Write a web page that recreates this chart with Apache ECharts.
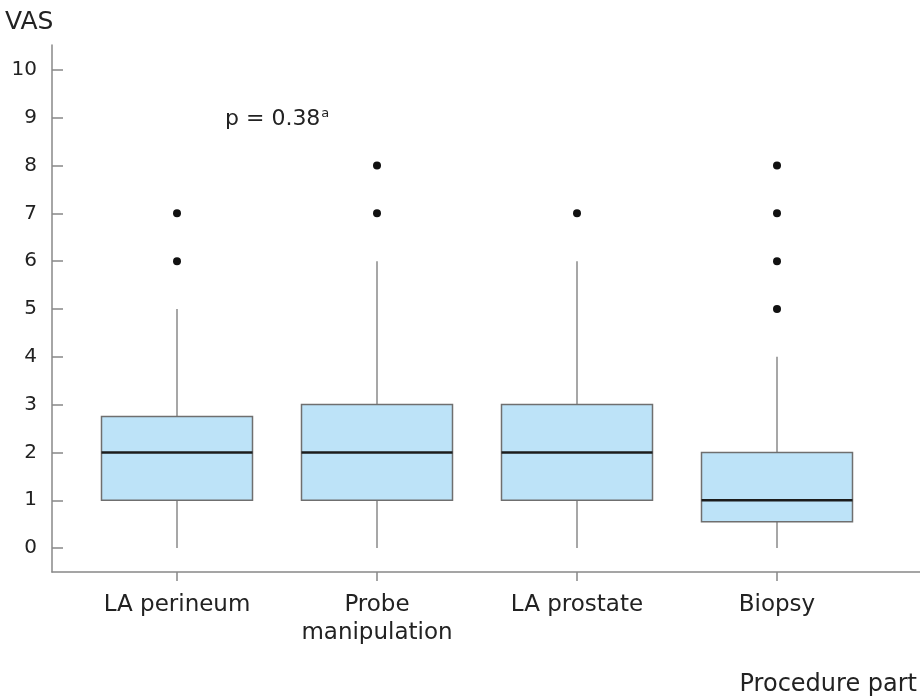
<!DOCTYPE html>
<html><head><meta charset="utf-8">
<script src="https://cdn.jsdelivr.net/npm/echarts@6/dist/echarts.min.js"></script>
<style>html,body{margin:0;padding:0;background:#fff}#c{width:920px;height:700px}</style>
</head><body><div id="c"></div>
<script>
const categories = ['LA perineum', 'Probe\nmanipulation', 'LA prostate', 'Biopsy'];
// [whiskerLow, Q1, median, Q3, whiskerHigh]
const lowWhisker = [0, 0, 0, 0];
const q1 = [1, 1, 1, 0.55];
const medians = [2, 2, 2, 1];
const q3 = [2.75, 3, 3, 2];
const highWhisker = [5, 6, 6, 4];
const outliers = [[6, 7], [7, 8], [7], [5, 6, 7, 8]];
const yTicks = [0, 1, 2, 3, 4, 5, 6, 7, 8, 9, 10];
const pText = 'p = 0.38';

const boxData = categories.map((c, i) => [i, lowWhisker[i], q1[i], medians[i], q3[i], highWhisker[i]]);
const outlierData = [];
outliers.forEach((arr, i) => arr.forEach(v => outlierData.push([i, v])));

const FONT = '"DejaVu Sans", sans-serif';
const chart = echarts.init(document.getElementById('c'), null, {renderer: 'canvas'});
const Y_MIN = -0.5, Y_MAX = 10.52;
chart.setOption({
  animation: false,
  backgroundColor: '#fff',
  textStyle: {fontFamily: FONT},
  grid: [
    {left: 77, right: 43, top: 45, bottom: 128},
    {left: 52, right: 0, top: 45, bottom: 128}
  ],
  xAxis: [
    {type: 'category', gridIndex: 0, data: categories, boundaryGap: true,
     axisLine: {show: false, onZero: false},
     axisTick: {show: true, alignWithLabel: true, length: 9, lineStyle: {color: '#888', width: 1.5}},
     axisLabel: {fontSize: 23, color: '#222', margin: 19, lineHeight: 28, fontFamily: FONT},
     splitLine: {show: false}},
    {type: 'value', gridIndex: 1, min: 0, max: 1,
     axisLine: {show: true, onZero: false, lineStyle: {color: '#888', width: 1.5}},
     axisTick: {show: false}, axisLabel: {show: false}, splitLine: {show: false}}
  ],
  yAxis: [
    {type: 'value', gridIndex: 0, min: Y_MIN, max: Y_MAX, show: false, splitLine: {show: false}},
    {type: 'value', gridIndex: 1, min: Y_MIN, max: Y_MAX,
     axisLine: {show: true, onZero: false, lineStyle: {color: '#888', width: 1.5}},
     axisTick: {show: true, inside: true, length: 11, customValues: yTicks, lineStyle: {color: '#888', width: 1.5}},
     axisLabel: {show: true, customValues: yTicks, fontSize: 20, color: '#222', margin: 15, fontFamily: FONT},
     splitLine: {show: false}}
  ],
  series: [
    {type: 'custom', xAxisIndex: 0, yAxisIndex: 0, data: boxData,
     encode: {x: 0, y: [1, 2, 3, 4, 5]},
     renderItem: function (params, api) {
       const x = api.value(0);
       const pLow = api.coord([x, api.value(1)]);
       const pQ1 = api.coord([x, api.value(2)]);
       const pMed = api.coord([x, api.value(3)]);
       const pQ3 = api.coord([x, api.value(4)]);
       const pHigh = api.coord([x, api.value(5)]);
       const w = api.size([1, 0])[0] * 0.755;
       const cx = pMed[0];
       const wl = {stroke: '#8a8a8a', lineWidth: 1.5};
       return {type: 'group', children: [
         {type: 'line', shape: {x1: cx, y1: pLow[1], x2: cx, y2: pQ1[1]}, style: wl},
         {type: 'line', shape: {x1: cx, y1: pQ3[1], x2: cx, y2: pHigh[1]}, style: wl},
         {type: 'rect', shape: {x: cx - w / 2, y: pQ3[1], width: w, height: pQ1[1] - pQ3[1]},
          style: {fill: '#bde3f8', stroke: '#6f6f6f', lineWidth: 1.5}},
         {type: 'line', shape: {x1: cx - w / 2, y1: pMed[1], x2: cx + w / 2, y2: pMed[1]},
          style: {stroke: '#1c1c1c', lineWidth: 2.5}}
       ]};
     }},
    {type: 'scatter', xAxisIndex: 0, yAxisIndex: 0, data: outlierData,
     symbol: 'circle', symbolSize: 8, itemStyle: {color: '#111', opacity: 1}}
  ],
  graphic: [
    {type: 'text', left: 5, top: 10, style: {text: 'VAS', fontSize: 25, fill: '#222', fontFamily: FONT}},
    {type: 'text', left: 225, top: 107, style: {
      text: pText + '{sup|a}', fontSize: 22, fill: '#222', fontFamily: FONT,
      rich: {sup: {fontSize: 13, verticalAlign: 'top', padding: [0, 0, 11, 1], fill: '#222', fontFamily: FONT}}}},
    {type: 'text', right: 3, top: 673, style: {text: 'Procedure part', fontSize: 24, fill: '#222', fontFamily: FONT}}
  ]
});
</script></body></html>
